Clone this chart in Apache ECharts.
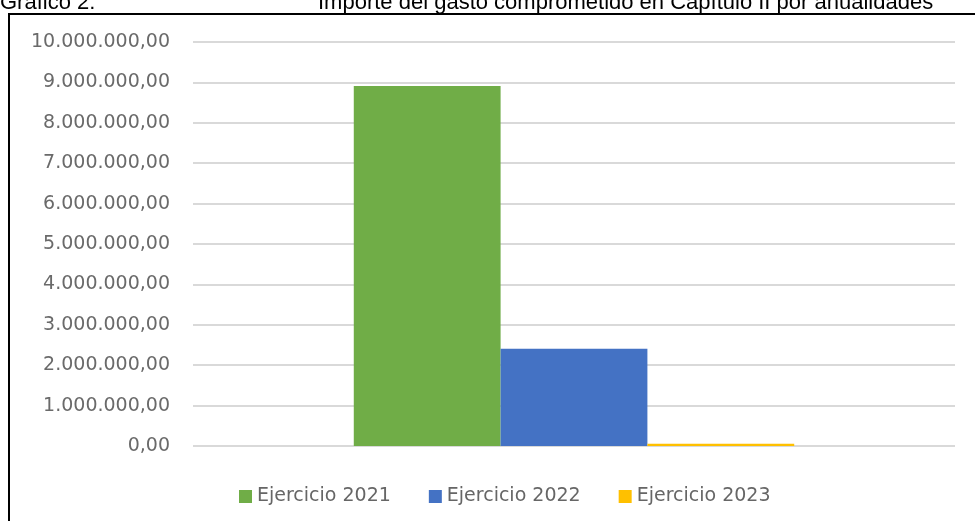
<!DOCTYPE html>
<html>
<head>
<meta charset="utf-8">
<script src="https://cdn.jsdelivr.net/npm/echarts@6/dist/echarts.min.js"></script>
<style>html,body{margin:0;padding:0;background:#fff;}#c{width:975px;height:521px;}</style>
</head>
<body>
<div id="c"></div>
<script>
var categories = ['Capítulo II'];
var seriesNames = ['Ejercicio 2021', 'Ejercicio 2022', 'Ejercicio 2023'];
var values2021 = [8910000];
var values2022 = [2410000];
var values2023 = [55000];
var seriesColors = ['#70AD47', '#4472C4', '#FFC000'];
var titleLeft = 'Gráfico 2:';
var titleMain = 'Importe del gasto comprometido en Capítulo II por anualidades';

function fmt(v) {
  var s = Math.round(v).toString().replace(/\B(?=(\d{3})+(?!\d))/g, '.');
  return s + ',00';
}

var chart = echarts.init(document.getElementById('c'));
var seriesData = [values2021, values2022, values2023];
chart.setOption({
  animation: false,
  backgroundColor: '#fff',
  grid: { left: 193, right: 20, top: 42, bottom: 75, containLabel: false },
  legend: {
    top: 482,
    left: 234,
    itemWidth: 13,
    itemHeight: 13,
    itemGap: 38,
    icon: 'rect',
    textStyle: { fontFamily: 'DejaVu Sans', fontSize: 19, color: '#666666' },
    data: seriesNames
  },
  xAxis: {
    type: 'category',
    data: categories,
    axisLine: { show: false },
    axisTick: { show: false },
    axisLabel: { show: false }
  },
  yAxis: {
    type: 'value',
    min: 0,
    max: 10000000,
    interval: 1000000,
    axisLine: { show: false },
    axisTick: { show: false },
    splitLine: { lineStyle: { color: '#d9d9d9', width: 2 } },
    axisLabel: {
      margin: 23,
      color: '#6a6a6a',
      fontFamily: 'DejaVu Sans',
      fontSize: 19,
      formatter: fmt
    }
  },
  series: seriesNames.map(function (n, i) {
    return {
      name: n,
      type: 'bar',
      data: seriesData[i],
      barGap: '0%',
      barCategoryGap: '42.2%',
      itemStyle: { color: seriesColors[i] }
    };
  }),
  graphic: [
    { type: 'rect', shape: { x: 9, y: 14, width: 1000, height: 540 }, style: { fill: 'none', stroke: '#000', lineWidth: 2 }, silent: true },
    { type: 'text', x: 0, y: 14, style: { text: titleLeft, fontFamily: 'Liberation Sans', fontSize: 22, fill: '#000', verticalAlign: 'bottom' } },
    { type: 'text', x: 318, y: 14, style: { text: titleMain, fontFamily: 'Liberation Sans', fontSize: 22, fill: '#000', verticalAlign: 'bottom' } }
  ]
});
</script>
</body>
</html>
